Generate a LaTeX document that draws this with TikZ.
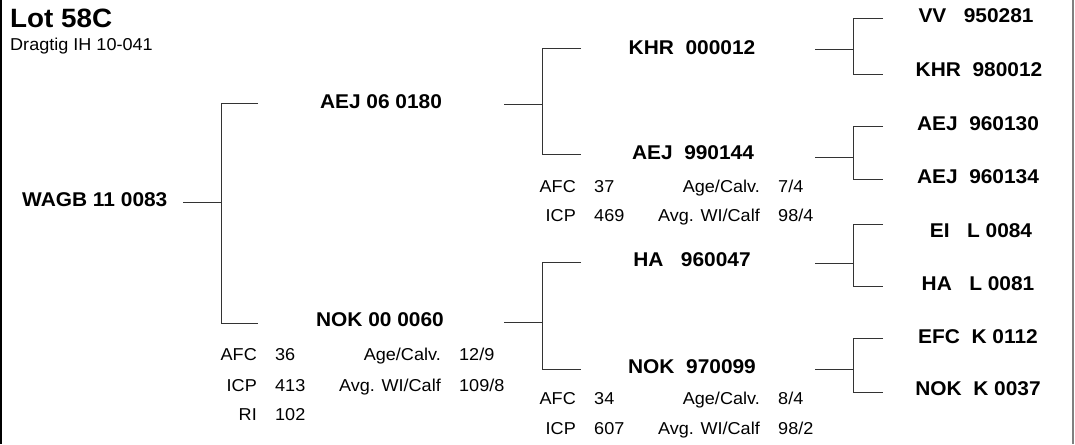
\documentclass[tikz,border=0pt]{standalone}
\usepackage{fontspec}
\setmainfont[FakeStretch=1.05]{Liberation Sans}
\usetikzlibrary{positioning}
\tikzset{
  link/.style   = {draw=black!80,line width=1pt},
  frame/.style  = {line width=1.6pt},
  animal/.style = {inner sep=0pt,anchor=base,
                   font=\bfseries\fontsize{19.9}{24}\selectfont},
  lbl/.style    = {inner sep=0pt,font=\fontsize{17.2}{21}\selectfont},
  title/.style  = {inner sep=0pt,anchor=base west,
                   font=\bfseries\fontsize{26.5}{31}\selectfont},
}
% fork: name, fork point, top/bottom offsets, arm length
\newcommand{\fork}[5]{%
  \begin{scope}[shift={(#2)}]
    \coordinate (#1-in)  at (-38,0);
    \coordinate (#1-mid) at (0,0);
    \coordinate (#1-top) at (#5,#3);
    \coordinate (#1-bot) at (#5,#4);
    \draw[link] (#1-in) -- (#1-mid);
    \draw[link] (#1-top) -- (0,#3) -- (0,#4) -- (#1-bot);
  \end{scope}%
}
\newcommand{\statcell}[5]{%
  \node[lbl,anchor=base east] (#1-l) at (#2,#3) {#4};
  \node[lbl,anchor=base west] (#1-v) at ([xshift=18pt]#1-l.base east) {#5};%
}

\begin{document}
\begin{tikzpicture}[x=1pt,y=-1pt]
  \useasboundingbox (0,0) rectangle (1075,444);
  \draw[frame] (1,0) -- (1,444);
  \draw[frame,black!50] (1073,0) -- (1073,444);
  % header
  \node[title] (lot) at (10,28) {Lot 58C};
  \node[lbl,anchor=base west] (lotsub) at (10,51) {Dragtig IH 10-041};
  % generation 0
  \node[animal,anchor=base west] (wagb) at (22,206) {WAGB 11 0083};
  % generation 1
  \node[animal] (s) at (381,108) {AEJ 06 0180};
  \node[animal] (d) at (380,326) {NOK 00 0060};
  % generation 2
  \node[animal] (ss) at (692,55)  {KHR\ \ 000012};
  \node[animal] (sd) at (693,159) {AEJ\ \ 990144};
  \node[animal] (ds) at (692,266) {HA\ \ \ 960047};
  \node[animal] (dd) at (692,373) {NOK\ \ 970099};
  % generation 3
  \node[animal] (sss) at (976,23)  {VV\ \ \ 950281};
  \node[animal] (ssd) at (979,76)  {KHR\ \ 980012};
  \node[animal] (sds) at (978,130) {AEJ\ \ 960130};
  \node[animal] (sdd) at (978,183) {AEJ\ \ 960134};
  \node[animal] (dss) at (981,237) {EI\ \ \ L 0084};
  \node[animal] (dsd) at (978,290) {HA\ \ \ L 0081};
  \node[animal] (dds) at (978,343) {EFC\ \ K 0112};
  \node[animal] (ddd) at (978,395) {NOK\ \ K 0037};
  % pedigree lines
  \fork{f0}{221,202}{-99}{121}{37}
  \fork{fs}{542,104}{-55}{50}{39}
  \fork{fd}{542,322}{-60}{47}{39}
  \fork{fss}{853,50}{-31}{24}{30}
  \fork{fsd}{853,157}{-31}{22}{30}
  \fork{fds}{853,263}{-39}{23}{30}
  \fork{fdd}{853,369}{-31}{23}{30}
  % performance of the dams
  \statcell{dafc}{257}{360}{AFC}{36}
  \statcell{dage}{441}{360}{Age/Calv.}{12/9}
  \statcell{dicp}{257}{391}{ICP}{413}
  \statcell{dwi}{441}{391}{Avg. WI/Calf}{109/8}
  \statcell{dri}{257}{420}{RI}{102}
  \statcell{sdafc}{576}{192}{AFC}{37}
  \statcell{sdage}{760}{192}{Age/Calv.}{7/4}
  \statcell{sdicp}{576}{221}{ICP}{469}
  \statcell{sdwi}{760}{221}{Avg. WI/Calf}{98/4}
  \statcell{ddafc}{576}{404}{AFC}{34}
  \statcell{ddage}{760}{404}{Age/Calv.}{8/4}
  \statcell{ddicp}{576}{434}{ICP}{607}
  \statcell{ddwi}{760}{434}{Avg. WI/Calf}{98/2}
\end{tikzpicture}
\end{document}
